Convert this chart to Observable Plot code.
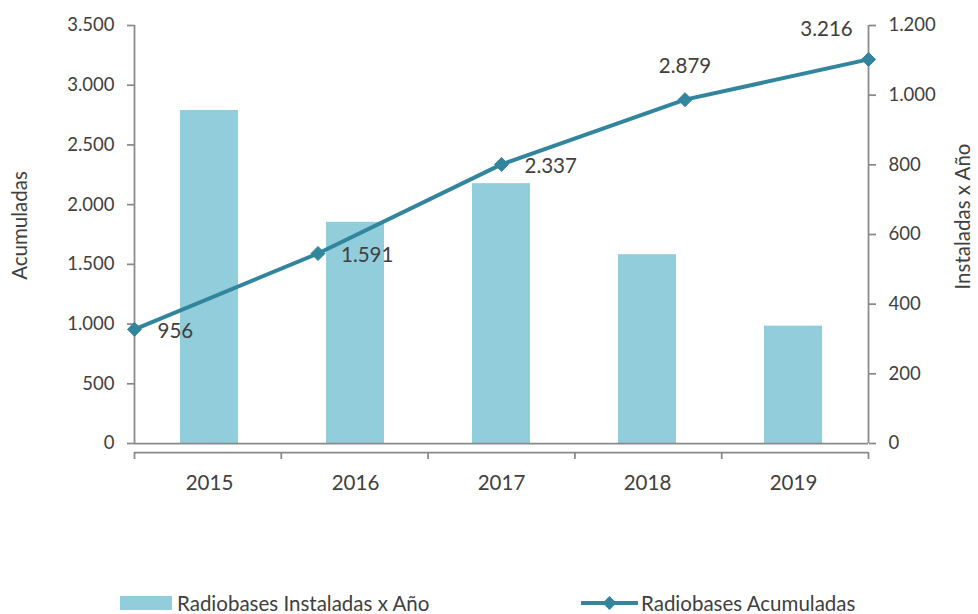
<!DOCTYPE html>
<html><head><meta charset="utf-8">
<script src="https://cdn.jsdelivr.net/npm/d3@7"></script>
<script src="https://cdn.jsdelivr.net/npm/@observablehq/plot@0.6"></script>
<style>
body{margin:0;background:#fff;font-family:Lato,sans-serif;}
#chart{position:relative;width:978px;height:614px;overflow:hidden;}
#chart svg{position:absolute;left:0;top:0;}
.legend{position:absolute;top:591px;left:0;width:978px;height:24px;font-size:20.5px;color:#404040;}
.item{position:absolute;top:0;display:flex;align-items:center;height:24px;white-space:nowrap;}
</style></head><body>
<div id="chart"></div>
<script>
// ---- data ----
const years = ["2015", "2016", "2017", "2018", "2019"];
const installed = [956, 635, 746, 542, 337];        // Radiobases Instaladas x Año (right axis)
const cumulative = [956, 1591, 2337, 2879, 3216];   // Radiobases Acumuladas (left axis)
const leftTicks = [0, 500, 1000, 1500, 2000, 2500, 3000, 3500];
const rightTicks = [0, 200, 400, 600, 800, 1000, 1200];
const seriesNames = ["Radiobases Instaladas x Año", "Radiobases Acumuladas"];
const axisTitles = ["Acumuladas", "Instaladas x Año"];

// ---- style ----
const barColor = "#92CDDC", lineColor = "#31859C", axisGray = "#898989", textColor = "#404040";
const W = 978, H = 500;
const M = {top: 25, right: 110, bottom: 57, left: 134};
const fmt = d3.formatLocale({decimal: ",", thousands: ".", grouping: [3], currency: ["", ""]}).format(",");

const rows = years.map((y, i) => ({idx: i, year: y, t: +y, installed: installed[i], cumulative: cumulative[i]}));
const t0 = +years[0], t1 = +years[years.length - 1];
const boundaries = d3.range(years.length + 1).map(k => t0 + k * (t1 - t0) / years.length);

const common = {
  width: W, height: H,
  marginTop: M.top, marginRight: M.right, marginBottom: M.bottom, marginLeft: M.left,
  style: {fontFamily: "Lato, sans-serif", color: textColor, background: "transparent", overflow: "visible"}
};

const barsPlot = Plot.plot({
  ...common,
  x: {type: "band", domain: years, paddingInner: 0.6, paddingOuter: 0.3},
  y: {domain: [0, 1200]},
  marks: [
    Plot.barY(rows, {x: "year", y: "installed", fill: barColor}),
    Plot.axisY({anchor: "right", ticks: rightTicks, tickFormat: fmt, tickSize: 7, tickPadding: 13,
      stroke: axisGray, strokeWidth: 1.75, fill: textColor, fontSize: 18.5, label: null}),
    Plot.axisX({tickSize: 0, tickPadding: 32, fill: textColor, fontSize: 20.5, label: null})
  ]
});

const lineText = {x: "t", y: "cumulative", text: d => fmt(d.cumulative), fill: textColor, fontSize: 20.5};
const linePlot = Plot.plot({
  ...common,
  x: {type: "linear", domain: [t0, t1]},
  y: {domain: [0, 3500]},
  marks: [
    Plot.ruleY([0], {stroke: axisGray, strokeWidth: 1.75}),
    Plot.ruleY([0], {stroke: axisGray, strokeWidth: 1.75, dy: 9}),
    Plot.axisX({ticks: boundaries, tickFormat: () => "", tickSize: 7, dy: 9, stroke: axisGray, strokeWidth: 1.75, label: null}),
    Plot.ruleX([t0, t1], {stroke: axisGray, strokeWidth: 1.75}),
    Plot.axisY({anchor: "left", ticks: leftTicks, tickFormat: fmt, tickSize: 7, tickPadding: 13,
      stroke: axisGray, strokeWidth: 1.75, fill: textColor, fontSize: 18.5, label: null}),
    Plot.lineY(rows, {x: "t", y: "cumulative", stroke: lineColor, strokeWidth: 4}),
    Plot.dot(rows, {x: "t", y: "cumulative", symbol: "diamond2", r: 6.3, fill: lineColor, stroke: lineColor, strokeWidth: 1}),
    Plot.text(rows, {...lineText, filter: d => d.idx < 3, textAnchor: "start", dx: 23, dy: 2}),
    Plot.text(rows, {...lineText, filter: d => d.idx === 3, textAnchor: "middle", dy: -33}),
    Plot.text(rows, {...lineText, filter: d => d.idx === 4, textAnchor: "middle", dx: -42, dy: -30}),
    Plot.text([axisTitles[0]], {frameAnchor: "left", textAnchor: "middle", text: d => d, rotate: -90, dx: -114, dy: -9, fill: textColor, fontSize: 20.5}),
    Plot.text([axisTitles[1]], {frameAnchor: "right", textAnchor: "middle", text: d => d, rotate: -90, dx: 95, dy: -18, fill: textColor, fontSize: 20.5})
  ]
});

const chart = document.getElementById("chart");
chart.append(barsPlot, linePlot);

// ---- legend ----
const legend = document.createElement("div");
legend.className = "legend";
legend.innerHTML = `
  <div class="item" style="left:120px">
    <span style="display:inline-block;width:52px;height:14px;background:${barColor};margin-right:5px"></span>${seriesNames[0]}
  </div>
  <div class="item" style="left:581px">
    <svg width="57" height="16" style="position:static;margin-right:3px">
      <line x1="1" y1="8" x2="56" y2="8" stroke="${lineColor}" stroke-width="4" stroke-linecap="round"/>
      <path d="M28.5,1 L35.5,8 L28.5,15 L21.5,8 Z" fill="${lineColor}"/>
    </svg>${seriesNames[1]}
  </div>`;
chart.append(legend);
</script>
</body></html>
